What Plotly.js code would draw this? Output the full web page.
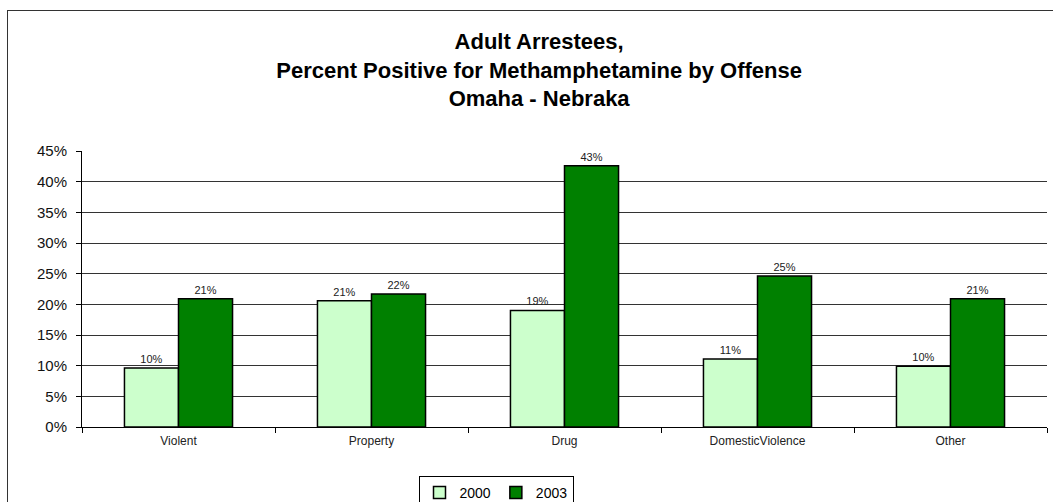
<!DOCTYPE html>
<html>
<head>
<meta charset="utf-8">
<script src="https://cdn.plot.ly/plotly-3.0.1.min.js"></script>
<style>
  html, body { margin: 0; padding: 0; background: #ffffff; overflow: hidden; }
  #wrap { position: relative; width: 1053px; height: 502px; overflow: hidden; }
  #chart { width: 1053px; height: 502px; }
  #frame { position: absolute; left: 7px; top: 10px; width: 1200px; height: 700px;
           border: 1.5px solid #333333; pointer-events: none; }
</style>
</head>
<body>
<div id="wrap">
  <div id="chart"></div>
  <div id="frame"></div>
</div>
<script>
// Data
const categories = ['Violent', 'Property', 'Drug', 'DomesticViolence', 'Other'];
const seriesNames = ['2000', '2003'];
const values2000 = [0.096, 0.206, 0.190, 0.111, 0.099];
const values2003 = [0.209, 0.217, 0.426, 0.246, 0.209];
const yTickValues = [0, 0.05, 0.10, 0.15, 0.20, 0.25, 0.30, 0.35, 0.40, 0.45];

const titleLines = [
  'Adult Arrestees,',
  'Percent Positive for Methamphetamine by Offense',
  'Omaha - Nebraka'
];

const FONT = 'Arial, "Liberation Sans", sans-serif';

const traces = [
  {
    type: 'bar',
    name: seriesNames[0],
    x: categories,
    y: values2000,
    marker: { color: '#CCFFCC', line: { color: '#000000', width: 1.5 } },
    texttemplate: '%{y:.0%}',
    textposition: 'outside',
    textfont: { family: FONT, size: 11, color: '#222222' },
    cliponaxis: false,
    hoverinfo: 'x+y'
  },
  {
    type: 'bar',
    name: seriesNames[1],
    x: categories,
    y: values2003,
    marker: { color: '#008000', line: { color: '#000000', width: 1.5 } },
    texttemplate: '%{y:.0%}',
    textposition: 'outside',
    textfont: { family: FONT, size: 11, color: '#222222' },
    cliponaxis: false,
    hoverinfo: 'x+y'
  }
];

const layout = {
  width: 1053,
  height: 502,
  paper_bgcolor: '#ffffff',
  plot_bgcolor: '#ffffff',
  font: { family: FONT, color: '#000000' },
  margin: { l: 82, r: 6, t: 151, b: 75, autoexpand: false },
  barmode: 'group',
  bargap: 0.44,
  bargroupgap: 0,
  title: {
    text: '<b>' + titleLines.join('<br>') + '</b>',
    font: { family: FONT, size: 22, color: '#000000' },
    x: 0.512,
    xref: 'container',
    xanchor: 'center',
    y: 1 - 49 / 502,
    yref: 'container',
    yanchor: 'top'
  },
  xaxis: {
    type: 'category',
    showline: true,
    linecolor: '#000000',
    linewidth: 1,
    ticks: 'outside',
    tickson: 'boundaries',
    ticklen: 5,
    tickcolor: '#000000',
    ticklabelstandoff: 3,
    tickfont: { family: FONT, size: 12, color: '#222222' },
    showgrid: false,
    zeroline: false,
    automargin: false,
    fixedrange: true
  },
  yaxis: {
    range: [0, 0.45],
    tickvals: yTickValues,
    tickformat: '.0%',
    showline: true,
    linecolor: '#000000',
    linewidth: 1,
    ticks: 'outside',
    ticklen: 5,
    tickcolor: '#000000',
    ticklabelstandoff: 6,
    tickfont: { family: FONT, size: 15, color: '#111111' },
    showgrid: true,
    gridcolor: '#333333',
    gridwidth: 1,
    zeroline: false,
    automargin: false,
    fixedrange: true
  },
  showlegend: true,
  legend: {
    orientation: 'h',
    x: 496 / 1053,
    xref: 'container',
    xanchor: 'center',
    y: 1 - 476 / 502,
    yref: 'container',
    yanchor: 'top',
    bordercolor: '#000000',
    borderwidth: 1,
    bgcolor: '#ffffff',
    font: { family: FONT, size: 14, color: '#000000' },
    itemwidth: 30,
    traceorder: 'normal'
  }
};

Plotly.newPlot('chart', traces, layout, { displayModeBar: false, staticPlot: true });
</script>
</body>
</html>
